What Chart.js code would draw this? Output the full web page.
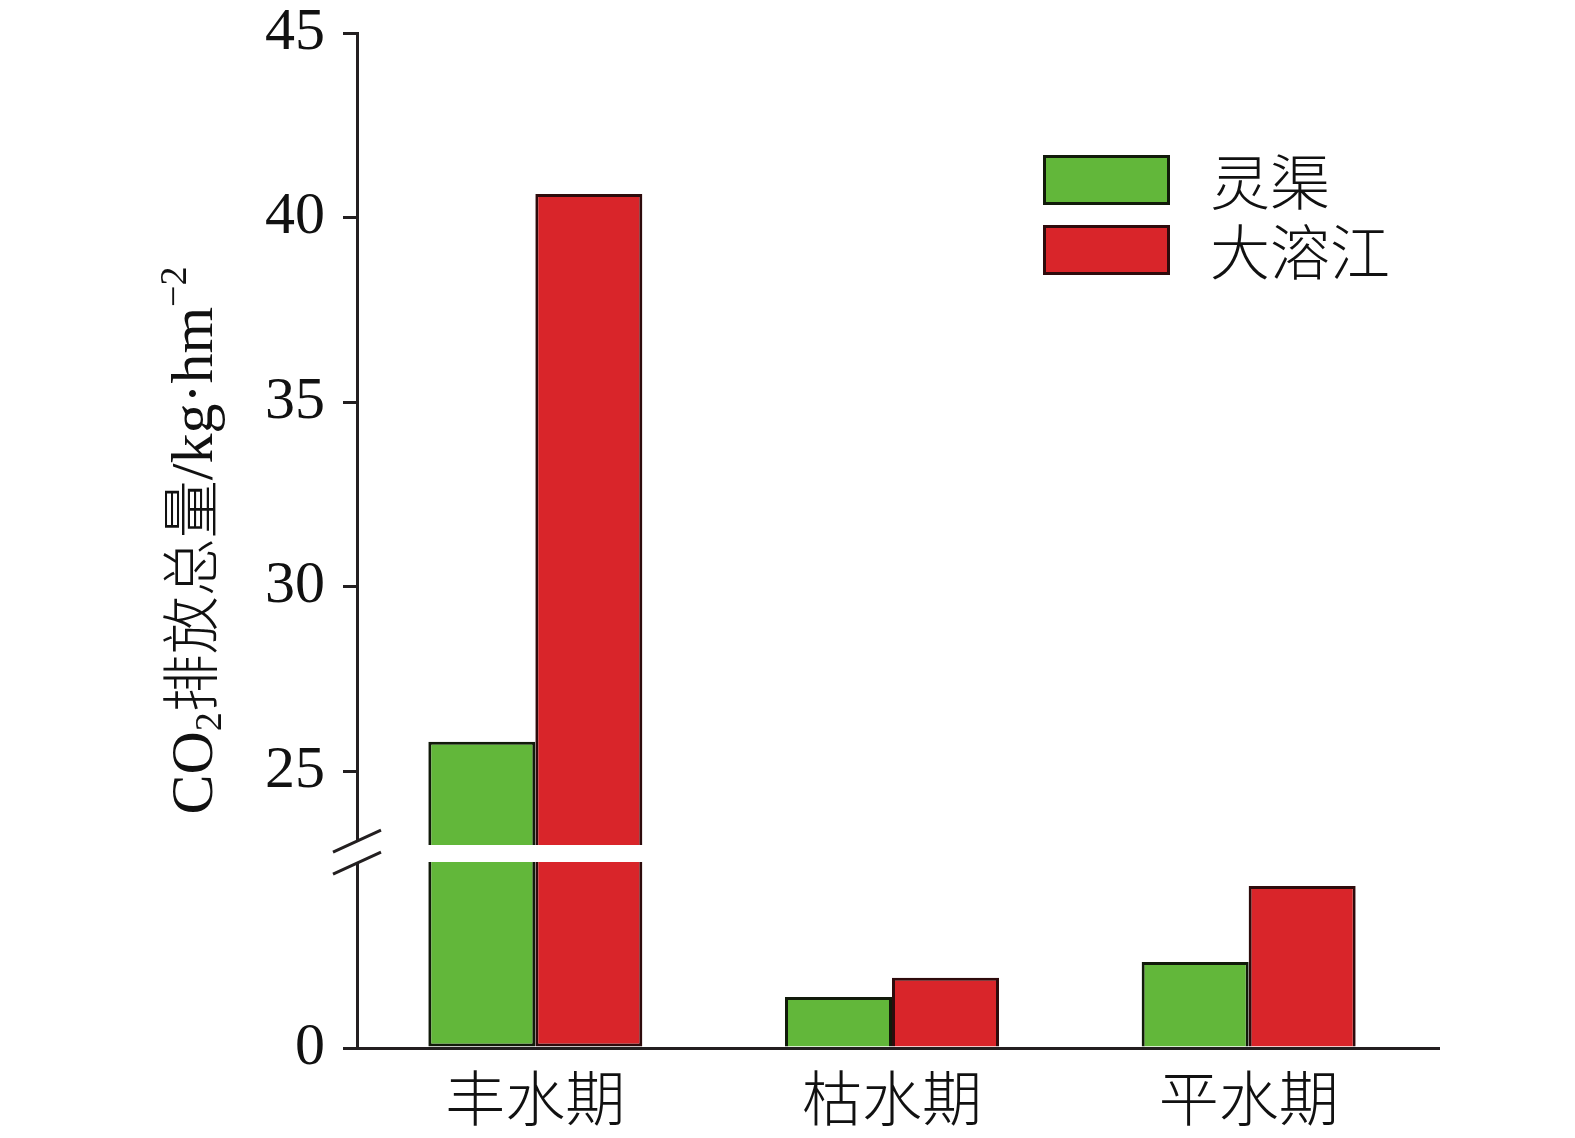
<!DOCTYPE html>
<html>
<head>
<meta charset="utf-8">
<script src="https://cdn.jsdelivr.net/npm/chart.js@4.4.1/dist/chart.umd.min.js"></script>
<style>
  html, body { margin: 0; padding: 0; background: #ffffff; }
  #wrap { width: 1575px; height: 1138px; }
</style>
</head>
<body>
<div id="wrap"><canvas id="c" width="1575" height="1138"></canvas></div>
<script>
// ---- data ----
const categories = ['丰水期', '枯水期', '平水期'];
const seriesNames = ['灵渠', '大溶江'];
const lingqu = [25.8, 1.38, 2.33];
const darongjiang = [40.64, 1.90, 4.39];
const upperTicks = [25, 30, 35, 40, 45];
const lowerTicks = [0];
// broken axis ranges
const lowerRange = [0, 5.28];
const upperRange = [22.78, 45];
const lowerCap = 5.04;   // where lower bar pieces stop
const upperStart = 23.0; // where upper bar pieces start

// ---- styles ----
const AX = '#231f20';
const fills = ['#62b73a', '#d9252a'];
const edges = ['#111a0a', '#2e0b0c'];
const SERIF = '"Liberation Serif", "Noto Sans CJK SC", serif';

function upperData(arr) { return arr.map(v => v > upperStart ? [upperStart, v] : null); }
function lowerData(arr) { return arr.map(v => [0, Math.min(v, lowerCap)]); }
const skipFn = ctx => (ctx.raw && ctx.raw[1] >= lowerCap) ? 'top' : 'bottom';

const seriesArrays = [lingqu, darongjiang];
const datasets = [];
seriesArrays.forEach((arr, i) => {
  datasets.push({
    label: seriesNames[i], data: upperData(arr), yAxisID: 'yHigh', stack: 's' + i,
    backgroundColor: fills[i], borderColor: edges[i], borderWidth: 3, borderSkipped: 'bottom'
  });
  datasets.push({
    label: seriesNames[i] + ' ', data: lowerData(arr), yAxisID: 'yLow', stack: 's' + i,
    backgroundColor: fills[i], borderColor: edges[i], borderWidth: 3, borderSkipped: skipFn
  });
});

function alignPx(p, w) { return Math.round(p - w / 2) + w / 2; }

const breakPlugin = {
  id: 'axisBreak',
  afterDraw(chart) {
    const ctx = chart.ctx;
    const hi = chart.scales.yHigh;
    const xs = chart.scales.x;
    const x = hi.right;
    const yb = hi.bottom;
    ctx.save();
    ctx.fillStyle = '#ffffff';
    ctx.fillRect(x - 4, yb - 12, 8, 22);
    ctx.strokeStyle = AX;
    ctx.lineWidth = 3;
    ctx.beginPath();
    ctx.moveTo(x - 24, yb - 1); ctx.lineTo(x + 24, yb - 23);
    ctx.moveTo(x - 24, yb + 21); ctx.lineTo(x + 24, yb - 1);
    ctx.stroke();
    // x-axis line runs a little past the last category
    const ya = alignPx(xs.top, 3);
    ctx.lineCap = 'butt';
    ctx.beginPath();
    ctx.moveTo(xs.right - 2, ya); ctx.lineTo(xs.right + 13, ya);
    ctx.stroke();
    ctx.restore();
  }
};

const legendPlugin = {
  id: 'boxLegend',
  afterDraw(chart) {
    const ctx = chart.ctx, a = chart.chartArea;
    ctx.save();
    seriesNames.forEach((name, i) => {
      const x = a.left + 686, y = a.top + 122 + i * 70;
      ctx.fillStyle = fills[i];
      ctx.fillRect(x, y, 127, 50);
      ctx.strokeStyle = edges[i];
      ctx.lineWidth = 3;
      ctx.strokeRect(x + 1.5, y + 1.5, 124, 47);
      ctx.fillStyle = '#111111';
      ctx.font = '300 60px "Noto Sans CJK SC", sans-serif';
      ctx.textAlign = 'left';
      ctx.textBaseline = 'middle';
      ctx.fillText(name, x + 167, y + 27);
    });
    ctx.restore();
  }
};

const titlePlugin = {
  id: 'yTitle',
  afterDraw(chart) {
    const ctx = chart.ctx, a = chart.chartArea;
    const parts = [
      { t: 'CO', f: '60px ' + SERIF, dy: 0 },
      { t: '2', f: '38px ' + SERIF, dy: 9 },
      { t: '排放总量', f: '300 58px "Noto Sans CJK SC", sans-serif', dy: 0 },
      { t: '/kg·hm', f: '60px ' + SERIF, dy: 0 },
      { t: '−2', f: '38px ' + SERIF, dy: -26 }
    ];
    ctx.save();
    let total = 0;
    parts.forEach(p => { ctx.font = p.f; p.w = ctx.measureText(p.t).width; total += p.w; });
    ctx.translate(212, (a.top + a.bottom) / 2);
    ctx.rotate(-Math.PI / 2);
    ctx.fillStyle = '#111111';
    ctx.textBaseline = 'alphabetic';
    ctx.textAlign = 'left';
    let cx = -total / 2;
    parts.forEach(p => { ctx.font = p.f; ctx.fillText(p.t, cx, p.dy); cx += p.w; });
    ctx.restore();
  }
};

const yCommon = {
  type: 'linear',
  position: 'left',
  stack: 'yb',
  grid: { drawOnChartArea: false, drawTicks: true, tickLength: 14, lineWidth: 3, color: AX },
  border: { display: true, width: 3, color: AX },
  ticks: { font: { family: SERIF, size: 60, lineHeight: 0.5 }, color: '#111111', padding: 18 },
  afterFit: s => { s.width = 357; }
};

new Chart(document.getElementById('c'), {
  type: 'bar',
  data: { labels: categories, datasets: datasets },
  options: {
    responsive: false,
    animation: false,
    devicePixelRatio: 1,
    categoryPercentage: 0.6,
    barPercentage: 1.0,
    layout: { padding: { left: 0, right: 148, top: 33, bottom: 0 } },
    plugins: { legend: { display: false }, tooltip: { enabled: false } },
    scales: {
      x: {
        type: 'category',
        stacked: true,
        grid: { display: false, drawTicks: false, tickLength: 0 },
        border: { display: true, width: 3, color: AX },
        ticks: { font: { family: '"Noto Sans CJK SC", sans-serif', size: 60, weight: 300 }, color: '#111111', padding: 14, maxRotation: 0 },
        afterFit: s => { s.height = 90; }
      },
      yHigh: Object.assign({}, yCommon, {
        min: upperRange[0], max: upperRange[1], weight: 2,
        stackWeight: upperRange[1] - upperRange[0],
        afterBuildTicks: s => { s.ticks = upperTicks.map(v => ({ value: v })); }
      }),
      yLow: Object.assign({}, yCommon, {
        min: lowerRange[0], max: lowerRange[1], weight: 1,
        stackWeight: lowerRange[1] - lowerRange[0],
        afterBuildTicks: s => { s.ticks = lowerTicks.map(v => ({ value: v })); }
      })
    }
  },
  plugins: [breakPlugin, legendPlugin, titlePlugin]
});
</script>
</body>
</html>
